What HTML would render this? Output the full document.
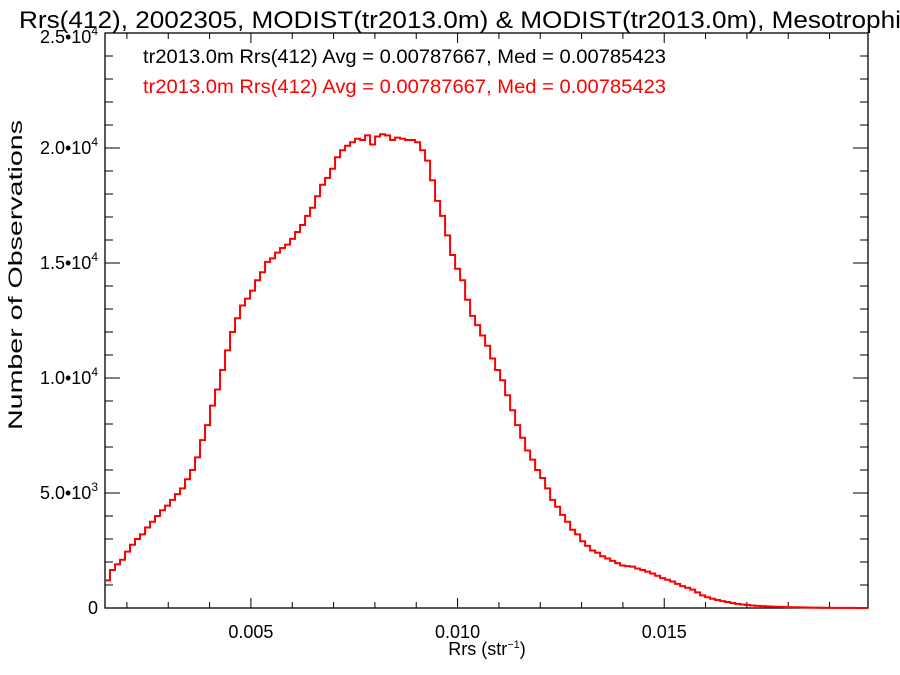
<!DOCTYPE html>
<html><head><meta charset="utf-8"><style>
html,body{margin:0;padding:0;background:#fff;}
svg{display:block;font-family:"Liberation Sans",Helvetica,Arial,sans-serif;}
</style></head><body>
<svg id="chart" width="900" height="675" viewBox="0 0 900 675" xmlns="http://www.w3.org/2000/svg">
<rect width="900" height="675" fill="#fff"/>
<text x="19" y="28" font-size="24" textLength="895" lengthAdjust="spacingAndGlyphs" fill="#000">Rrs(412), 2002305, MODIST(tr2013.0m) &amp; MODIST(tr2013.0m), Mesotrophic</text>
<text x="143" y="63" font-size="19" textLength="523" lengthAdjust="spacingAndGlyphs" fill="#000">tr2013.0m Rrs(412) Avg = 0.00787667, Med = 0.00785423</text>
<text x="143" y="93" font-size="19" textLength="523" lengthAdjust="spacingAndGlyphs" fill="#ff0000">tr2013.0m Rrs(412) Avg = 0.00787667, Med = 0.00785423</text>
<text transform="translate(22,275) rotate(-90)" text-anchor="middle" font-size="19" textLength="310" lengthAdjust="spacingAndGlyphs">Number of Observations</text>
<text x="487" y="655" text-anchor="middle" font-size="18">Rrs (str<tspan dy="-7" font-size="11">−1</tspan><tspan dy="7">)</tspan></text>
<g id="axes"></g>
<g id="series"></g>
</svg>
<script>
const xTickValues = [0.005, 0.010, 0.015];
const xTickLabels = ["0.005", "0.010", "0.015"];
const yTickValues = [0, 5000, 10000, 15000, 20000, 25000];
const yTickMantissa = ["0", "5.0", "1.0", "1.5", "2.0", "2.5"];
const yTickExp = ["", "3", "4", "4", "4", "4"];
const binStart = 0.00147;
const binWidth = 0.000121;
const counts = [1200,1650,1900,2100,2450,2750,3000,3200,3500,3750,4000,4250,4450,4700,4950,5200,5600,6000,6550,7300,7950,8800,9500,10350,11200,12000,12600,13150,13450,13800,14250,14600,15050,15200,15450,15650,15800,16050,16350,16650,17050,17400,17900,18400,18700,19100,19600,19900,20100,20250,20400,20350,20550,20150,20500,20600,20550,20350,20450,20400,20350,20350,20250,19900,19450,18600,17700,17050,16200,15350,14750,14250,13400,12700,12300,11850,11400,10850,10350,9900,9250,8600,7950,7400,6850,6450,6000,5650,5200,4700,4400,4050,3750,3400,3200,2900,2700,2500,2400,2250,2150,2050,1950,1850,1820,1800,1720,1650,1580,1500,1400,1300,1230,1150,1050,950,880,800,680,550,470,400,350,300,260,220,180,150,130,110,95,80,70,60,55,50,40,35,30,25,20,18,15,12,10,8,6,5,4,3,2,2,1];

const L=105,R=868,T=33,B=608;
const xMin=0.00147,xMax=0.01993,yMin=0,yMax=25000;
const sx=v=>L+(v-xMin)/(xMax-xMin)*(R-L);
const sy=v=>B-(v-yMin)/(yMax-yMin)*(B-T);
const NS="http://www.w3.org/2000/svg";
const axes=document.getElementById('axes');
function mk(tag,attrs,parent){const e=document.createElementNS(NS,tag);for(const k in attrs)e.setAttribute(k,attrs[k]);parent.appendChild(e);return e;}

const frame=mk('rect',{x:L,y:T,width:R-L,height:B-T,fill:'none',stroke:'#000','stroke-width':1.3},axes);



for(let k=2;k<=19;k++){const v=k*0.001;const x=sx(v);const major=(k%5===0);const len=major?10:6;
 const t1=mk('line',{x1:x,x2:x,y1:B,y2:B-len,stroke:'#000','stroke-width':1},axes);
 
 
 const t2=mk('line',{x1:x,x2:x,y1:T,y2:T+len,stroke:'#000','stroke-width':1},axes);
 
 
}
xTickValues.forEach((v,i)=>{const t=mk('text',{x:sx(v),y:B+30,'text-anchor':'middle','font-size':18},axes);t.textContent=xTickLabels[i];
 
 
});
for(let k=1;k<25;k++){const v=k*1000;const y=sy(v);const major=(k%5===0);const len=major?15:8;
 const t1=mk('line',{x1:L,x2:L+len,y1:y,y2:y,stroke:'#000','stroke-width':1},axes);
 
 
 const t2=mk('line',{x1:R,x2:R-len,y1:y,y2:y,stroke:'#000','stroke-width':1},axes);
 
 
}
yTickValues.forEach((v,i)=>{const t=mk('text',{x:98,y:sy(v)+(i===5?10:6),'text-anchor':'end','font-size':18},axes);
 
 
 if(yTickExp[i]){t.textContent=yTickMantissa[i]+'•10';const s=mk('tspan',{dy:-8,'font-size':12},t);s.textContent=yTickExp[i];}
 else t.textContent=yTickMantissa[i];
});

let d='';
counts.forEach((c,i)=>{const x0=Math.max(L,sx(binStart+i*binWidth)),x1=Math.min(R,sx(binStart+(i+1)*binWidth));const y=sy(c);
 d+=(i===0?'M':'L')+x0.toFixed(2)+','+y.toFixed(2)+'L'+x1.toFixed(2)+','+y.toFixed(2);});
const p=mk('path',{d:d,fill:'none',stroke:'#ff0000','stroke-width':2,'stroke-linejoin':'miter'},document.getElementById('series'));


</script>
</body></html>
